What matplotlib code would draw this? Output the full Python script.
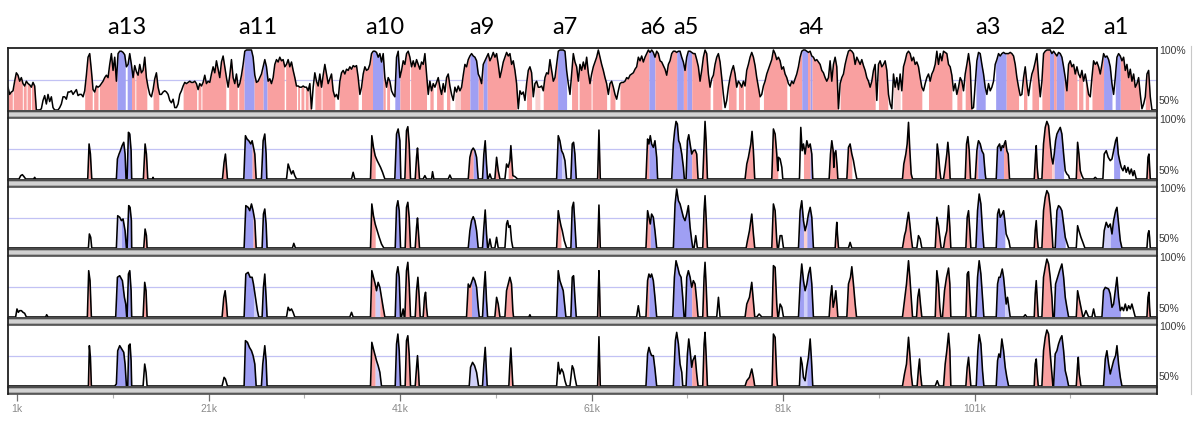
import numpy as np
import matplotlib
matplotlib.use("Agg")
import matplotlib.pyplot as plt
from matplotlib.patches import Rectangle
from matplotlib.lines import Line2D

# ---------------------------------------------------------------- data
# Track 1: identity (%) sampled every T1_STEP kb starting at T1_START kb
T1_START = 0.052
T1_STEP = 0.17416
track1_pct = [
    69, 63, 65, 66, 74, 81, 79, 74, 77, 72, 70, 74, 72, 71, 69, 73, 70, 50, 50, 50,
    51, 58, 62, 55, 63, 57, 61, 52, 50, 50, 50, 52, 55, 61, 61, 59, 65, 65, 66, 63,
    65, 67, 62, 63, 63, 61, 66, 79, 94, 97, 83, 67, 65, 70, 69, 70, 72, 74, 77, 79,
    77, 88, 97, 83, 94, 74, 97, 99, 99, 98, 96, 86, 88, 97, 88, 77, 87, 82, 79, 88,
    81, 83, 94, 77, 69, 63, 61, 67, 76, 81, 69, 63, 63, 65, 66, 65,
    63, 58, 56, 59, 52, 52, 55, 63, 66, 70, 73, 72, 73, 74, 73, 73, 74, 72, 67, 72,
    70, 73, 79, 72, 74, 73, 80, 86, 81, 91, 84, 77, 90, 95, 86, 77, 69, 79, 92, 77,
    72, 80, 69, 72, 79, 88, 99, 100, 100, 100, 100, 94, 79, 73, 74, 77, 80, 86, 92, 86,
    74, 76, 72, 77, 88, 92, 90, 94, 91, 92, 86, 88, 92, 86, 90, 83, 77, 70, 70, 69,
    69, 70, 69, 69, 66, 72, 51, 69, 81, 74, 70, 80, 69, 79, 88, 80, 72, 76, 80,
    66, 61, 63, 59, 74, 81, 83, 80, 84, 83, 86, 84, 87, 86, 87, 77, 63, 69, 80, 86,
    83, 84, 88, 97, 99, 99, 98, 94, 97, 90, 97, 77, 69, 77, 74, 66, 63, 61, 94, 99,
    77, 83, 91, 88, 97, 99, 94, 86, 91, 86, 92, 88, 84, 90, 88, 97, 80, 63, 74, 66,
    72, 69, 73, 77, 69, 63, 72, 65, 77, 80, 70, 63, 58, 69, 65, 70, 66, 69, 79, 88,
    86, 92, 95, 97, 95, 94, 91, 80, 77, 72, 88, 91, 94, 97, 91, 94, 98, 94, 97,
    88, 77, 83, 90, 94, 98, 95, 97, 88, 91, 83, 72, 51, 66, 63, 65, 58, 72, 83, 86,
    81, 61, 72, 74, 69, 69, 70, 66, 77, 81, 80, 92, 83, 74, 77, 88, 99, 100, 100, 100,
    99, 83, 72, 63, 80, 97, 90, 86, 74, 88, 83, 90, 84, 94, 81, 72, 80, 86, 90, 94,
    100, 94, 88, 83, 77, 72, 63, 72, 74, 69, 63, 59, 66, 72, 73, 73, 74, 77, 76, 79,
    80, 81, 84, 86, 94, 91, 95, 90, 94, 97, 100, 98, 100, 98, 94, 99, 97, 91, 90,
    87, 84, 79, 88, 91, 97, 99, 99, 98, 99, 99, 94, 90, 83, 94, 99, 99, 98, 97, 97,
    92, 86, 74, 83, 94, 100, 97, 80, 69, 76, 79, 88, 94, 97, 90, 77, 63, 52, 58, 69,
    77, 83, 87, 80, 69, 74, 72, 69, 74, 70, 83, 88, 94, 98, 94, 87, 77, 69, 61, 63,
    70, 74, 80, 84, 88, 92, 100, 97, 92, 94, 91, 84, 86, 80, 77, 72, 70, 74, 72, 76,
    80, 86, 94, 99, 100, 100, 99, 98, 99, 95, 94, 91, 92, 90, 88, 83, 81, 77, 74,
    77, 91, 74, 88, 94, 86, 51, 72, 77, 80, 88, 94, 99, 100, 99, 97, 88, 94, 91, 88,
    92, 87, 83, 77, 74, 69, 74, 83, 88, 58, 88, 91, 86, 88, 91, 83, 63, 55, 51, 80,
    69, 77, 67, 80, 66, 86, 91, 97, 99, 97, 91, 94, 88, 90, 86, 77, 69, 66, 72, 77,
    80, 74, 80, 83, 88, 99, 88, 97, 91, 99, 98, 97, 88, 86, 79, 66, 72, 63, 69, 77,
    74, 66, 80, 88, 97, 86, 51, 52, 72, 91, 98, 97, 88, 80, 69, 63, 72, 66, 69,
    74, 88, 92, 97, 95, 97, 98, 97, 97, 97, 98, 97, 95, 88, 77, 69, 62, 63, 77, 86,
    72, 62, 72, 80, 84, 90, 97, 77, 61, 74, 97, 99, 100, 100, 100, 97, 99, 97, 95, 98,
    97, 94, 86, 77, 66, 88, 91, 86, 88, 80, 86, 80, 77, 83, 74, 80, 72, 63, 61, 77,
    91, 88, 90, 86, 80, 88, 97, 94, 95, 92, 86, 72, 63, 77, 94, 97, 95, 91, 94, 83,
    88, 77, 84, 74, 80, 69, 72, 77, 63, 51, 55, 61, 80, 83, 61, 50, 50, 50,
]
# coloured regions of track 1: (kind, start kb, end kb)
track1_fill = [
    ('c', 0.05, 0.5), ('c', 0.6, 1.55), ('c', 1.65, 1.95), ('c', 2.05, 2.4), ('c', 2.5, 2.95),
    ('c', 8.06, 8.85), ('c', 9.0, 9.45), ('c', 9.6, 11.45), ('e', 11.45, 12.3), ('e', 12.5, 12.95),
    ('c', 12.95, 13.3), ('c', 13.4, 14.55), ('c', 15.2, 15.8),
    ('c', 18.34, 19.75), ('c', 19.9, 20.2), ('c', 20.3, 22.8), ('c', 23.1, 24.0), ('c', 24.15, 24.71),
    ('e', 24.71, 25.76), ('c', 25.76, 26.7), ('e', 26.7, 27.11), ('c', 27.11, 28.9), ('c', 29.05, 30.18),
    ('c', 30.3, 30.5), ('c', 30.65, 30.95), ('c', 31.1, 31.4), ('c', 31.5, 31.72), ('c', 32.1, 32.75),
    ('c', 32.85, 34.18), ('c', 34.64, 36.62), ('c', 36.97, 38.12), ('e', 38.12, 39.23), ('c', 39.23, 39.45),
    ('c', 39.6, 39.9), ('e', 40.45, 40.98), ('c', 40.98, 42.0), ('c', 42.1, 43.76), ('c', 44.11, 44.46),
    ('c', 44.81, 45.5), ('c', 45.85, 46.2), ('l', 46.72, 47.3), ('c', 47.3, 48.29), ('e', 48.29, 49.16),
    ('c', 49.16, 49.68), ('e', 49.68, 50.1), ('c', 50.1, 53.17), ('c', 54.21, 54.73), ('l', 55.08, 55.6),
    ('c', 55.95, 57.45), ('e', 57.45, 58.39), ('c', 58.91, 59.55), ('c', 59.7, 60.95), ('c', 61.05, 62.57),
    ('c', 62.92, 63.44), ('c', 63.96, 66.99), ('e', 66.99, 67.62), ('c', 67.62, 69.89), ('e', 69.89, 70.59),
    ('c', 70.59, 70.94), ('e', 70.94, 71.46), ('c', 71.46, 73.38), ('c', 73.65, 74.6), ('c', 75.29, 76.09),
    ('c', 76.34, 76.86), ('c', 77.03, 78.53), ('c', 78.95, 81.39), ('c', 81.67, 82.95), ('e', 82.95, 83.55),
    ('c', 83.55, 83.83), ('e', 83.83, 84.03), ('c', 84.03, 86.72), ('c', 86.96, 90.62), ('c', 90.96, 91.94),
    ('l', 92.5, 93.23), ('c', 93.4, 95.49), ('c', 96.19, 98.63), ('c', 99.15, 99.67), ('c', 100.02, 100.72),
    ('e', 101.14, 102.11), ('e', 103.2, 104.3), ('c', 104.3, 105.59), ('c', 106.11, 106.46),
    ('c', 106.99, 107.68), ('c', 108.03, 108.83), ('e', 108.83, 109.25), ('c', 109.25, 109.53),
    ('e', 109.53, 110.36), ('c', 110.36, 111.69), ('c', 111.86, 112.31), ('c', 112.56, 112.91),
    ('c', 113.26, 114.47), ('e', 114.47, 115.35), ('e', 115.69, 116.22), ('c', 116.22, 118.24),
    ('c', 118.83, 119.28),
]

# Tracks 2-5: peaks as (kind, [(kb, identity %), ...])
track2_peaks = [
    ('n', [(1.2, 50), (1.38, 52.8), (1.55, 53.6), (1.72, 52), (1.9, 50)]),
    ('n', [(2.73, 50), (2.84, 51.4), (2.94, 50)]),
    ('c', [(8.38, 50), (8.52, 79.2), (8.66, 70.8), (8.8, 50)]),
    ('e', [(11.37, 50), (11.48, 66.7), (11.65, 70.8), (11.79, 73.6), (11.97, 77.8), (12.14, 80.6), (12.28, 70.8), (12.38, 50)]),
    ('e', [(12.49, 50), (12.63, 88.9), (12.77, 87.5), (12.91, 73.6), (12.97, 50)]),
    ('c', [(14.19, 50), (14.37, 79.2), (14.51, 70.8), (14.65, 50)]),
    ('n', [(15.13, 50), (15.2, 51.4), (15.27, 50)]),
    ('c', [(22.45, 50), (22.62, 63.9), (22.76, 70.8), (22.87, 59.7), (22.97, 50)]),
    ('e', [(24.68, 50), (24.85, 86.1), (25.02, 83.3), (25.2, 81.9), (25.41, 79.2), (25.55, 81.9)]),
    ('c', [(25.55, 81.9), (25.69, 76.4), (25.83, 70.8), (25.97, 50)]),
    ('e', [(26.52, 50), (26.7, 81.9), (26.87, 87.5), (27.01, 70.8), (27.08, 50)]),
    ('n', [(29.14, 50), (29.31, 62.5), (29.48, 58.3), (29.66, 54.2), (29.83, 56.9), (30.0, 52.8), (30.18, 50)]),
    ('n', [(35.93, 50), (36.1, 55.6), (36.27, 50)]),
    ('c', [(37.91, 50), (38.05, 86.1), (38.22, 76.4), (38.4, 69.4)]),
    ('n', [(38.4, 69.4), (38.61, 65.3), (38.78, 62.5), (38.96, 59.7), (39.17, 55.6), (39.41, 50)]),
    ('e', [(40.45, 50), (40.63, 87.5), (40.8, 91.7), (40.98, 81.9), (41.08, 50)]),
    ('c', [(41.5, 50), (41.67, 90.3), (41.81, 93.6), (41.95, 79.2), (42.09, 50)]),
    ('c', [(42.58, 50), (42.72, 68.1), (42.82, 75.8), (42.93, 62.5), (43.03, 50)]),
    ('n', [(43.41, 50), (43.59, 52.8), (43.76, 50)]),
    ('n', [(44.29, 50), (44.39, 56.1), (44.53, 50)]),
    ('n', [(46.03, 50), (46.2, 53.3), (46.38, 50)]),
    ('c', [(48.12, 50), (48.29, 68.1), (48.46, 73.6), (48.64, 75.8)]),
    ('e', [(48.64, 75.8), (48.81, 73.6), (48.99, 68.1), (49.16, 50)]),
    ('e', [(49.61, 50), (49.75, 70.8), (49.89, 81.9), (50.03, 62.5), (50.14, 50)]),
    ('n', [(50.21, 50), (50.38, 54.2), (50.55, 50)]),
    ('c', [(50.9, 50), (51.08, 68.1), (51.25, 56.9), (51.43, 50)]),
    ('n', [(51.95, 50), (52.12, 62.5), (52.29, 59.7)]),
    ('c', [(52.29, 59.7), (52.47, 65.3), (52.57, 77.8), (52.68, 65.3), (52.78, 52.8)]),
    ('n', [(52.78, 52.8), (52.99, 52), (53.27, 50)]),
    ('e', [(57.35, 50), (57.52, 86.1), (57.69, 81.9), (57.87, 73.6)]),
    ('u', [(57.87, 73.6), (58.04, 70.8), (58.22, 65.3), (58.39, 50)]),
    ('e', [(58.84, 50), (58.98, 79.2), (59.12, 80.6), (59.26, 70.8), (59.4, 50)]),
    ('c', [(61.63, 50), (61.7, 70.8), (61.77, 90.8), (61.84, 70.8), (61.91, 50)]),
    ('c', [(66.68, 50), (66.85, 83.3), (66.99, 79.2)]),
    ('e', [(66.99, 79.2), (67.13, 86.1), (67.27, 79.2), (67.45, 76.4), (67.62, 81.9), (67.8, 68.1), (67.9, 50)]),
    ('e', [(69.37, 50), (69.54, 79.2), (69.68, 90.3), (69.82, 98), (69.96, 95.8), (70.1, 81.9), (70.24, 79.2), (70.42, 70.8), (70.59, 59.7), (70.69, 50)]),
    ('e', [(70.87, 50), (71.01, 81.9), (71.15, 86.9), (71.29, 79.2), (71.46, 70.8)]),
    ('c', [(71.46, 70.8), (71.63, 73.6), (71.81, 74.2), (71.98, 70.8), (72.12, 50)]),
    ('c', [(72.61, 50), (72.75, 79.2), (72.85, 98), (72.96, 81.9), (73.1, 50)]),
    ('c', [(77.03, 50), (77.21, 62.5), (77.38, 68.1), (77.63, 79.2), (77.76, 89.7), (77.9, 73.6), (78.04, 50)]),
    ('c', [(79.82, 50), (79.99, 91.7), (80.17, 87.5), (80.34, 70.8), (80.45, 56.9)]),
    ('n', [(80.45, 56.9), (80.52, 68.1), (80.69, 66.7), (80.87, 59.7), (80.97, 50)]),
    ('n', [(82.71, 50), (82.85, 93), (82.99, 73.6), (83.13, 79.2)]),
    ('c', [(83.13, 79.2), (83.3, 70.8), (83.48, 81.9), (83.65, 76.4), (83.83, 79.2)]),
    ('e', [(83.83, 79.2), (84.0, 70.8), (84.1, 50)]),
    ('c', [(85.81, 50), (85.95, 70.8), (86.09, 81.9), (86.23, 73.6), (86.3, 59.7), (86.37, 70.8), (86.51, 73.6), (86.65, 59.7), (86.72, 50)]),
    ('c', [(87.66, 50), (87.83, 76.4), (88.0, 79.2), (88.18, 70.8)]),
    ('n', [(88.18, 70.8), (88.35, 65.3), (88.53, 56.9), (88.7, 50)]),
    ('c', [(93.47, 50), (93.61, 62.5), (93.82, 70.8), (93.96, 79.2), (94.1, 97.2), (94.24, 73.6), (94.38, 54.2), (94.52, 50)]),
    ('c', [(96.96, 50), (97.1, 79.2), (97.23, 70.8), (97.37, 56.9), (97.48, 50)]),
    ('c', [(97.76, 50), (97.93, 59.7), (98.1, 70.8), (98.21, 80.6), (98.35, 68.1), (98.45, 50)]),
    ('c', [(100.02, 50), (100.16, 79.2), (100.3, 85.3), (100.44, 73.6), (100.58, 50)]),
    ('c', [(101.07, 50), (101.24, 73.6), (101.34, 79.2)]),
    ('e', [(101.34, 79.2), (101.41, 81.9), (101.59, 79.2), (101.76, 73.6), (101.94, 70.8), (102.11, 54.2), (102.18, 50)]),
    ('e', [(103.26, 50), (103.4, 76.4), (103.61, 79.2), (103.75, 73.6), (103.89, 77.8), (104.03, 76.4)]),
    ('c', [(104.03, 76.4), (104.1, 79.2), (104.23, 81.9), (104.37, 73.6), (104.51, 70.8), (104.65, 50)]),
    ('c', [(107.23, 50), (107.37, 70.8), (107.44, 77.8), (107.54, 59.7), (107.65, 50)]),
    ('c', [(108.03, 50), (108.2, 79.2), (108.38, 93), (108.55, 98), (108.73, 94.4), (108.9, 79.2), (109.04, 68.1)]),
    ('l', [(109.04, 68.1), (109.18, 62.5), (109.32, 70.8)]),
    ('e', [(109.32, 70.8), (109.46, 81.9), (109.6, 87.5), (109.77, 90.3), (109.95, 93), (110.12, 87.5), (110.3, 70.8)]),
    ('n', [(110.3, 70.8), (110.47, 56.9), (110.64, 54.2), (110.82, 52.8), (110.92, 50)]),
    ('c', [(111.62, 50), (111.76, 80.6), (111.9, 70.8), (112.04, 56.9)]),
    ('n', [(112.04, 56.9), (112.21, 52.8), (112.38, 50)]),
    ('n', [(113.43, 50), (113.6, 51.4), (113.78, 50)]),
    ('n', [(114.4, 50), (114.54, 70.8), (114.75, 73.6), (114.96, 68.1), (115.17, 65.3), (115.35, 66.7), (115.52, 73.6)]),
    ('e', [(115.52, 73.6), (115.73, 81.9), (115.87, 84.7), (116.01, 70.8), (116.15, 65.3)]),
    ('n', [(116.15, 65.3), (116.32, 59.7), (116.5, 56.9), (116.67, 61.1), (116.84, 55.6), (117.02, 59.7), (117.19, 54.2), (117.37, 58.3), (117.54, 52.8), (117.68, 56.9), (117.89, 50)]),
    ('c', [(119.0, 50), (119.11, 68.1), (119.21, 70.8), (119.28, 59.7), (119.35, 50)]),
]

track3_peaks = [
    ('n', [(8.45, 50), (8.55, 61.7), (8.69, 58.9), (8.8, 50)]),
    ('u', [(11.37, 50), (11.51, 76.9), (11.72, 75.6), (11.9, 72.8)]),
    ('e', [(11.9, 72.8), (12.07, 74.2), (12.28, 64.4), (12.42, 50)]),
    ('e', [(12.49, 50), (12.66, 85.3), (12.8, 83.9), (12.94, 72.8), (12.97, 50)]),
    ('c', [(14.23, 50), (14.37, 65.8), (14.51, 60.3), (14.58, 50)]),
    ('e', [(24.71, 50), (24.89, 85.3), (25.13, 83.9), (25.3, 81.1), (25.48, 86.7), (25.65, 81.1)]),
    ('c', [(25.65, 81.1), (25.83, 72.8), (25.97, 50)]),
    ('e', [(26.59, 50), (26.73, 78.3), (26.87, 82.5), (27.01, 70), (27.11, 50)]),
    ('n', [(29.76, 50), (29.9, 53.9), (30.07, 50)]),
    ('c', [(37.91, 50), (38.05, 86.7), (38.22, 76.9), (38.4, 70)]),
    ('n', [(38.4, 70), (38.61, 64.4), (38.82, 58.9), (39.06, 53.3), (39.3, 50)]),
    ('e', [(40.49, 50), (40.63, 83.9), (40.77, 89.4), (40.91, 81.1), (41.05, 50)]),
    ('c', [(41.53, 50), (41.67, 83.9), (41.81, 88.1), (41.95, 75.6), (42.09, 50)]),
    ('c', [(42.58, 50), (42.72, 67.2), (42.82, 75), (42.93, 61.7), (43.03, 50)]),
    ('e', [(48.12, 50), (48.29, 64.4), (48.46, 72.8), (48.64, 76.1), (48.81, 72.8), (48.99, 64.4), (49.16, 50)]),
    ('e', [(49.61, 50), (49.75, 67.2), (49.89, 81.7), (50.03, 61.7), (50.14, 50)]),
    ('n', [(50.21, 50), (50.38, 57.5), (50.55, 50)]),
    ('n', [(50.9, 50), (51.08, 58.9), (51.25, 50)]),
    ('n', [(51.95, 50), (52.12, 70), (52.23, 72.8), (52.36, 67.2), (52.5, 68.6), (52.64, 56.1), (52.78, 50)]),
    ('c', [(57.35, 50), (57.52, 81.1), (57.66, 74.2), (57.8, 68.6)]),
    ('n', [(57.8, 68.6), (57.94, 64.4), (58.15, 56.1), (58.39, 50)]),
    ('e', [(58.84, 50), (58.98, 83.9), (59.12, 88.1), (59.26, 70), (59.4, 50)]),
    ('c', [(61.63, 50), (61.7, 67.2), (61.77, 85.8), (61.84, 67.2), (61.91, 50)]),
    ('c', [(66.68, 50), (66.85, 81.1), (66.99, 75.6), (67.13, 70)]),
    ('e', [(67.13, 70), (67.27, 78.3), (67.45, 75.6), (67.62, 64.4), (67.8, 50)]),
    ('e', [(69.54, 50), (69.72, 86.7), (69.89, 99.2), (70.07, 89.4), (70.24, 86.7), (70.42, 81.1), (70.59, 75.6), (70.76, 72.8), (70.94, 78.3), (71.11, 85.3), (71.29, 67.2), (71.46, 56.1), (71.57, 50)]),
    ('n', [(71.7, 50), (71.88, 60.3), (72.05, 50)]),
    ('c', [(72.61, 50), (72.75, 81.1), (72.85, 93.6), (72.96, 75.6), (73.1, 50)]),
    ('c', [(77.14, 50), (77.28, 56.1), (77.49, 64.4), (77.73, 78.3), (77.9, 61.7), (78.04, 50)]),
    ('c', [(79.82, 50), (79.99, 86.7), (80.17, 81.1), (80.34, 56.1), (80.41, 50)]),
    ('n', [(80.52, 50), (80.69, 60.3), (80.87, 60.3), (81.04, 50)]),
    ('e', [(82.61, 50), (82.78, 81.1), (82.95, 89.4), (83.13, 72.8)]),
    ('l', [(83.13, 72.8), (83.3, 64.4), (83.48, 70)]),
    ('e', [(83.48, 70), (83.65, 78.3), (83.83, 83.9), (84.0, 75.6), (84.17, 50)]),
    ('c', [(86.44, 50), (86.54, 64.4), (86.61, 71.4), (86.68, 61.7), (86.79, 50)]),
    ('n', [(87.83, 50), (88.0, 54.7), (88.18, 50)]),
    ('c', [(93.47, 50), (93.68, 60.3), (93.82, 64.4), (93.96, 72.8), (94.1, 79.7), (94.24, 70), (94.38, 58.9), (94.52, 50)]),
    ('n', [(94.97, 50), (95.14, 60.3), (95.32, 57.5), (95.49, 50)]),
    ('c', [(96.89, 50), (97.06, 75.6), (97.23, 68.6), (97.41, 56.1), (97.51, 50)]),
    ('c', [(97.76, 50), (97.93, 58.9), (98.1, 64.4), (98.28, 85.3), (98.42, 67.2), (98.52, 50)]),
    ('c', [(100.09, 50), (100.23, 75.6), (100.37, 81.1), (100.51, 64.4), (100.61, 50)]),
    ('e', [(101.14, 50), (101.31, 81.1), (101.48, 95), (101.66, 86.7), (101.83, 64.4), (101.97, 50)]),
    ('e', [(103.26, 50), (103.4, 78.3), (103.54, 82.5), (103.68, 75.6), (103.89, 78.3), (104.03, 81.1), (104.16, 72.8)]),
    ('n', [(104.16, 72.8), (104.3, 61.7), (104.44, 58.9), (104.58, 56.1), (104.72, 50)]),
    ('c', [(107.23, 50), (107.33, 64.4), (107.44, 72.8), (107.54, 58.9), (107.65, 50)]),
    ('c', [(108.03, 50), (108.2, 81.1), (108.38, 92.2), (108.55, 97.8), (108.73, 95), (108.9, 83.9), (109.08, 64.4), (109.18, 50)]),
    ('e', [(109.42, 50), (109.6, 81.1), (109.77, 85.3), (109.95, 83.9), (110.12, 81.1), (110.3, 70), (110.47, 58.9)]),
    ('n', [(110.47, 58.9), (110.64, 54.7), (110.82, 50)]),
    ('n', [(111.62, 50), (111.76, 68.6), (111.9, 64.4), (112.11, 58.9), (112.31, 54.7), (112.52, 50)]),
    ('u', [(114.4, 50), (114.54, 64.4), (114.75, 71.4), (114.96, 67.2), (115.17, 70)]),
    ('e', [(115.17, 70), (115.35, 61.7), (115.52, 72.8), (115.73, 81.1), (115.87, 83.9), (116.04, 70), (116.22, 56.1), (116.39, 50)]),
    ('n', [(119.0, 50), (119.11, 61.7), (119.21, 64.4), (119.28, 58.9), (119.35, 50)]),
]

track4_peaks = [
    ('n', [(0.85, 50), (0.99, 56.7), (1.13, 53.9), (1.27, 55.3), (1.45, 55.3), (1.62, 53.9), (1.79, 53.1), (1.97, 50)]),
    ('n', [(3.99, 50), (4.09, 51.9), (4.23, 50)]),
    ('c', [(8.34, 50), (8.48, 88.6), (8.62, 80.3), (8.76, 50)]),
    ('e', [(11.3, 50), (11.48, 83.1), (11.72, 84.4), (12.0, 80.3), (12.21, 66.4), (12.35, 60.8), (12.45, 50)]),
    ('e', [(12.49, 50), (12.63, 85.8), (12.77, 88.6), (12.91, 71.9), (12.97, 50)]),
    ('c', [(14.16, 50), (14.33, 78.9), (14.47, 71.9), (14.58, 50)]),
    ('c', [(22.41, 50), (22.59, 66.4), (22.73, 71.9), (22.87, 60.8), (22.97, 50)]),
    ('e', [(24.71, 50), (24.89, 85.8), (25.13, 87.2), (25.34, 83.1), (25.55, 83.1), (25.69, 77.5)]),
    ('u', [(25.69, 77.5), (25.9, 66.4), (26.1, 55.3), (26.24, 50)]),
    ('e', [(26.59, 50), (26.73, 74.7), (26.87, 85.8), (27.01, 66.4), (27.11, 50)]),
    ('n', [(29.14, 50), (29.31, 58.1), (29.48, 55.3), (29.66, 56.7), (29.83, 53.9), (30.0, 50)]),
    ('n', [(35.75, 50), (35.93, 53.9), (36.1, 50)]),
    ('c', [(37.91, 50), (38.05, 88.6), (38.22, 83.1), (38.4, 77.5)]),
    ('u', [(38.4, 77.5), (38.54, 71.9), (38.71, 78.9), (38.89, 74.7)]),
    ('c', [(38.89, 74.7), (39.06, 66.4), (39.23, 58.1), (39.41, 50)]),
    ('e', [(40.49, 50), (40.63, 85.8), (40.77, 91.9), (40.91, 83.1), (41.05, 50)]),
    ('n', [(41.15, 50), (41.32, 56.7), (41.43, 50)]),
    ('c', [(41.5, 50), (41.67, 88.6), (41.81, 95.6), (41.95, 77.5), (42.09, 50)]),
    ('c', [(42.58, 50), (42.72, 71.9), (42.86, 83.1), (43.0, 66.4), (43.1, 50)]),
    ('c', [(43.41, 50), (43.55, 66.4), (43.66, 70.6), (43.76, 58.1), (43.87, 50)]),
    ('c', [(47.94, 50), (48.12, 77.5), (48.29, 74.7), (48.46, 78.9)]),
    ('e', [(48.46, 78.9), (48.64, 83.1), (48.81, 80.3), (48.99, 74.7), (49.16, 58.1), (49.27, 50)]),
    ('e', [(49.61, 50), (49.75, 71.9), (49.89, 87.8), (50.03, 63.6), (50.14, 50)]),
    ('c', [(50.9, 50), (51.08, 66.4), (51.25, 60.8), (51.43, 50)]),
    ('c', [(51.95, 50), (52.12, 71.9), (52.29, 77.5), (52.47, 83.1), (52.64, 77.5), (52.78, 55.3), (52.85, 50)]),
    ('n', [(54.45, 50), (54.56, 51.9), (54.66, 50)]),
    ('e', [(57.35, 50), (57.52, 88.6), (57.69, 80.3), (57.87, 76.1), (58.04, 71.9), (58.22, 58.1), (58.32, 50)]),
    ('e', [(58.84, 50), (58.98, 83.1), (59.12, 84.4), (59.26, 66.4), (59.4, 50)]),
    ('c', [(61.63, 50), (61.7, 71.9), (61.77, 88.6), (61.84, 71.9), (61.91, 50)]),
    ('n', [(65.7, 50), (65.88, 59.4), (66.05, 50)]),
    ('c', [(66.68, 50), (66.85, 80.3), (66.99, 85.8)]),
    ('e', [(66.99, 85.8), (67.13, 83.1), (67.27, 85.8), (67.45, 80.3), (67.62, 66.4), (67.8, 50)]),
    ('e', [(69.48, 50), (69.65, 83.1), (69.82, 96.9), (70.0, 91.4), (70.17, 85.8), (70.35, 83.1), (70.52, 66.4), (70.66, 50)]),
    ('e', [(70.8, 50), (70.94, 83.1), (71.11, 88.6), (71.29, 83.1), (71.46, 74.7)]),
    ('c', [(71.46, 74.7), (71.63, 80.3), (71.81, 77.5), (71.98, 63.6), (72.12, 50)]),
    ('c', [(72.61, 50), (72.75, 83.1), (72.85, 95.6), (72.96, 77.5), (73.1, 50)]),
    ('n', [(74.07, 50), (74.25, 66.4), (74.42, 50)]),
    ('c', [(77.03, 50), (77.21, 60.8), (77.49, 66.4), (77.73, 78.9), (77.9, 63.6), (78.04, 50)]),
    ('n', [(78.25, 50), (78.5, 52.5), (78.78, 50)]),
    ('c', [(79.85, 50), (79.99, 92.8), (80.17, 91.4), (80.34, 60.8), (80.45, 50)]),
    ('n', [(80.52, 50), (80.69, 60.8), (80.87, 58.1), (81.04, 50)]),
    ('e', [(82.61, 50), (82.78, 77.5), (82.95, 94.2), (83.13, 80.3)]),
    ('u', [(83.13, 80.3), (83.3, 71.9), (83.48, 77.5)]),
    ('e', [(83.48, 77.5), (83.65, 85.8), (83.83, 91.4), (84.0, 77.5), (84.17, 50)]),
    ('c', [(85.81, 50), (85.95, 66.4), (86.09, 76.1), (86.23, 58.1), (86.37, 63.6), (86.51, 71.9), (86.65, 58.1), (86.72, 50)]),
    ('c', [(87.66, 50), (87.83, 77.5), (88.04, 83.1), (88.18, 91.9), (88.35, 77.5), (88.53, 60.8), (88.67, 50)]),
    ('c', [(93.47, 50), (93.68, 63.6), (93.89, 77.5), (94.1, 96.9), (94.24, 83.1), (94.38, 66.4), (94.52, 50)]),
    ('c', [(94.94, 50), (95.07, 66.4), (95.21, 73.3), (95.35, 60.8), (95.49, 50)]),
    ('c', [(96.89, 50), (97.06, 88.6), (97.23, 77.5), (97.37, 58.1), (97.48, 50)]),
    ('c', [(97.65, 50), (97.86, 71.9), (98.07, 83.1), (98.28, 90.8), (98.42, 77.5), (98.52, 50)]),
    ('c', [(100.09, 50), (100.23, 85.8), (100.37, 87.8), (100.51, 66.4), (100.61, 50)]),
    ('e', [(101.14, 50), (101.31, 83.1), (101.48, 96.9), (101.66, 85.8), (101.83, 66.4), (101.97, 50)]),
    ('e', [(103.26, 50), (103.4, 77.5), (103.54, 83.1), (103.68, 83.1), (103.89, 90), (104.03, 83.1), (104.16, 71.9)]),
    ('u', [(104.16, 71.9), (104.3, 60.8), (104.44, 66.4), (104.58, 58.1), (104.72, 50)]),
    ('n', [(106.11, 50), (106.29, 51.9), (106.46, 50)]),
    ('c', [(107.23, 50), (107.33, 69.2), (107.44, 80.3), (107.54, 66.4), (107.65, 50)]),
    ('c', [(108.03, 50), (108.2, 83.1), (108.38, 91.4), (108.55, 98.3), (108.73, 94.2), (108.9, 83.1), (109.08, 66.4), (109.18, 50)]),
    ('e', [(109.32, 50), (109.46, 77.5), (109.67, 83.1), (109.88, 88.6), (110.12, 94.2), (110.3, 83.1), (110.47, 66.4), (110.64, 58.1), (110.82, 50)]),
    ('c', [(111.62, 50), (111.76, 71.9), (111.9, 66.4), (112.11, 58.1), (112.31, 50)]),
    ('n', [(112.38, 50), (112.63, 55.3), (112.91, 50)]),
    ('n', [(113.26, 50), (113.43, 56.7), (113.6, 50)]),
    ('e', [(114.3, 50), (114.47, 71.9), (114.65, 74.7), (115.0, 73.3), (115.17, 69.2), (115.35, 58.1), (115.52, 60.8), (115.69, 71.9), (115.87, 83.1), (116.04, 66.4), (116.22, 55.3)]),
    ('n', [(116.22, 55.3), (116.39, 58.1), (116.56, 55.3), (116.74, 60.8), (116.91, 55.3), (117.09, 59.4), (117.26, 56.7), (117.43, 60.8), (117.61, 55.3), (117.78, 50)]),
    ('c', [(119.0, 50), (119.11, 66.4), (119.21, 70.6), (119.28, 58.1), (119.35, 50)]),
]

track5_peaks = [
    ('c', [(8.45, 50), (8.55, 83.6), (8.66, 73.9), (8.76, 50)]),
    ('e', [(11.2, 50), (11.37, 51.7), (11.51, 79.4), (11.72, 83.6), (11.93, 80.8), (12.14, 78.1), (12.28, 68.3), (12.42, 50)]),
    ('e', [(12.56, 50), (12.66, 83.6), (12.8, 85), (12.91, 71.1), (12.97, 50)]),
    ('n', [(14.16, 50), (14.33, 68.3), (14.47, 61.4), (14.58, 50)]),
    ('n', [(22.41, 50), (22.62, 57.2), (22.76, 55.8), (22.97, 50)]),
    ('e', [(24.71, 50), (24.85, 87.8), (25.06, 86.4), (25.27, 82.2), (25.48, 79.4), (25.65, 75.3), (25.83, 68.3), (25.97, 50)]),
    ('e', [(26.52, 50), (26.66, 68.3), (26.87, 83.6), (27.01, 71.1), (27.11, 50)]),
    ('c', [(37.91, 50), (38.05, 86.4), (38.22, 80.8), (38.4, 75.3)]),
    ('u', [(38.4, 75.3), (38.54, 71.1), (38.71, 66.9), (38.89, 61.4), (39.06, 50)]),
    ('e', [(40.49, 50), (40.63, 85), (40.77, 93.3), (40.91, 79.4), (41.05, 50)]),
    ('c', [(41.53, 50), (41.67, 87.8), (41.81, 91.9), (41.95, 76.7), (42.09, 50)]),
    ('c', [(42.58, 50), (42.72, 65.6), (42.82, 75.3), (42.93, 61.4), (43.0, 50)]),
    ('u', [(48.22, 50), (48.36, 65.6), (48.57, 69.7), (48.78, 66.9), (48.99, 61.4), (49.2, 50)]),
    ('e', [(49.61, 50), (49.75, 68.3), (49.89, 82.2), (50.03, 60), (50.1, 50)]),
    ('c', [(52.36, 50), (52.47, 68.3), (52.57, 81.7), (52.68, 65.6), (52.78, 50)]),
    ('n', [(57.35, 50), (57.52, 69.7), (57.69, 60), (57.87, 64.2), (58.04, 61.4), (58.22, 54.4), (58.39, 50)]),
    ('n', [(58.74, 50), (58.98, 66.9), (59.12, 64.2), (59.26, 57.2), (59.44, 50)]),
    ('c', [(61.63, 50), (61.7, 71.1), (61.77, 91.1), (61.84, 71.1), (61.91, 50)]),
    ('e', [(66.68, 50), (66.85, 76.7), (66.99, 82.2), (67.13, 78.1), (67.27, 75.3), (67.45, 75.3), (67.62, 64.2), (67.8, 50)]),
    ('e', [(69.54, 50), (69.75, 87.8), (69.89, 94.7), (70.07, 85), (70.24, 68.3)]),
    ('u', [(70.24, 68.3), (70.42, 61.4), (70.52, 50)]),
    ('e', [(70.87, 50), (71.01, 76.7), (71.15, 89.2), (71.29, 79.4), (71.46, 65.6)]),
    ('c', [(71.46, 65.6), (71.57, 71.1), (71.81, 75.3), (71.98, 60), (72.12, 50)]),
    ('c', [(72.61, 50), (72.75, 85), (72.85, 94.7), (72.96, 76.7), (73.1, 50)]),
    ('c', [(77.03, 50), (77.21, 54.4), (77.49, 57.2), (77.73, 64.2), (77.9, 57.2), (78.04, 50)]),
    ('c', [(79.85, 50), (79.99, 93.3), (80.17, 90.6), (80.34, 57.2), (80.41, 50)]),
    ('u', [(82.71, 50), (82.85, 73.9), (82.99, 68.3), (83.13, 57.2), (83.3, 54.4), (83.48, 65.6)]),
    ('e', [(83.48, 65.6), (83.65, 73.9), (83.83, 89.2), (83.97, 71.1), (84.1, 50)]),
    ('c', [(93.47, 50), (93.68, 60), (93.89, 68.3), (94.1, 90.6), (94.24, 76.7), (94.38, 60), (94.52, 50)]),
    ('c', [(95.0, 50), (95.14, 64.2), (95.25, 72.5), (95.35, 60), (95.49, 50)]),
    ('n', [(96.89, 50), (97.1, 54.4), (97.3, 50)]),
    ('c', [(97.76, 50), (97.93, 68.3), (98.1, 79.4), (98.28, 93.9), (98.42, 79.4), (98.52, 50)]),
    ('c', [(100.09, 50), (100.23, 65.6), (100.37, 73.9), (100.51, 60), (100.61, 50)]),
    ('e', [(101.17, 50), (101.34, 79.4), (101.48, 92.8), (101.66, 85), (101.83, 62.8), (101.97, 50)]),
    ('e', [(103.26, 50), (103.4, 71.1), (103.54, 76.7), (103.68, 73.9), (103.85, 89.2), (104.03, 79.4), (104.2, 65.6), (104.37, 57.2), (104.55, 50)]),
    ('c', [(107.23, 50), (107.33, 68.3), (107.44, 72.5), (107.54, 60), (107.65, 50)]),
    ('c', [(108.03, 50), (108.2, 79.4), (108.38, 90.6), (108.55, 96.7), (108.73, 93.3), (108.9, 76.7), (109.08, 60), (109.18, 50)]),
    ('e', [(109.25, 50), (109.42, 76.7), (109.6, 79.4), (109.77, 85), (109.95, 89.2), (110.12, 91.9), (110.3, 79.4), (110.47, 62.8), (110.64, 57.2), (110.82, 50)]),
    ('c', [(111.62, 50), (111.76, 68.3), (111.83, 73.9), (111.93, 60), (112.11, 50)]),
    ('e', [(114.47, 50), (114.65, 72.5), (114.82, 79.4), (115.0, 68.3), (115.17, 60), (115.35, 65.6), (115.52, 71.1), (115.73, 75.3), (115.87, 83.6), (116.04, 68.3), (116.22, 57.2), (116.39, 50)]),
]

gene_labels = ["a13", "a11", "a10", "a9", "a7", "a6", "a5", "a4", "a3", "a2", "a1"]
gene_pos_kb = [12.49, 26.18, 39.45, 49.58, 58.25, 67.45, 70.9, 83.86, 102.45, 109.15, 115.73]
major_ticks_kb = [1, 21, 41, 61, 81, 101]
major_tick_labels = ["1k", "21k", "41k", "61k", "81k", "101k"]
minor_ticks_kb = [11, 31, 51, 71, 91, 111]
KB_RANGE = (0, 120)

# ---------------------------------------------------------------- style / layout
W, H = 1200, 421
PX_L, PX_R = 7.5, 1156.5
BASES = [110, 179, 248, 317, 386]      # pixel row of the 50% baseline of each track
TRACK_H = 62                            # pixels from track top to baseline
BAR_H = 8
FILL = {'c': '#F9A0A0', 'e': '#9F9FF3', 'u': '#CFCFF8', 'l': '#FAD0D0'}
GRID = '#C2C2F4'

fig = plt.figure(figsize=(W / 100, H / 100), dpi=100)

def track_axes(base):
    ax = fig.add_axes([PX_L / W, 1 - base / H, (PX_R - PX_L) / W, TRACK_H / H])
    ax.set_xlim(*KB_RANGE)
    ax.set_ylim(50, 50 + TRACK_H * 50 / 60)
    ax.axis('off')
    ax.axhline(75, color=GRID, lw=0.9, zorder=0)
    return ax

# track 1
ax1 = track_axes(BASES[0])
t1_kb = T1_START + T1_STEP * np.arange(len(track1_pct))
t1_pct = np.array(track1_pct, dtype=float)
for kind, a, b in track1_fill:
    inner = t1_kb[(t1_kb > a) & (t1_kb < b)]
    xs = np.concatenate([[a], inner, [b]])
    ys = np.interp(xs, t1_kb, t1_pct)
    ax1.fill_between(xs, 50, ys, color=FILL[kind], lw=0, zorder=1)
ax1.plot(np.concatenate([[0], t1_kb]), np.concatenate([[t1_pct[0]], t1_pct]),
         color='black', lw=1.1, zorder=2)

for name, pos in zip(gene_labels, gene_pos_kb):
    ax1.text(pos, 1.335, name, transform=ax1.get_xaxis_transform(), ha='center', va='center',
             fontsize=17, family='Lato', color='black')

# tracks 2-5
for base, peaks in zip(BASES[1:], [track2_peaks, track3_peaks, track4_peaks, track5_peaks]):
    ax = track_axes(base)
    xs, ys = [KB_RANGE[0]], [50]
    for kind, pts in peaks:
        px, py = zip(*pts)
        if kind in FILL:
            ax.fill_between(px, 50, py, color=FILL[kind], lw=0, zorder=1)
        xs.extend(px)
        ys.extend(py)
    xs.append(KB_RANGE[1])
    ys.append(50)
    ax.plot(xs, ys, color='black', lw=1.15, zorder=2)

# decorations in pixel space
ov = fig.add_axes([0, 0, 1, 1])
ov.set_xlim(0, W)
ov.set_ylim(H, 0)
ov.axis('off')
ov.set_zorder(5)
for base in BASES:
    ov.add_patch(Rectangle((PX_L, base), PX_R - PX_L, BAR_H, facecolor='#A8A8A8', edgecolor='none'))
    ov.add_patch(Rectangle((PX_L, base + 2.5), PX_R - PX_L, 3, facecolor='#D2D2D2', edgecolor='none'))
    ov.add_line(Line2D([PX_L, PX_R], [base + 0.5, base + 0.5], color='#303030', lw=1.1))
    ov.add_line(Line2D([PX_L, PX_R], [base + BAR_H - 0.5, base + BAR_H - 0.5], color='#404040', lw=1.1))
    ov.text(1159, base - 59, '100%', fontsize=7.5, family='Liberation Sans', color='#3a3a3a',
            ha='left', va='center')
    ov.text(1159, base - 8.5, '50%', fontsize=7.5, family='Liberation Sans', color='#3a3a3a',
            ha='left', va='center')
ov.add_line(Line2D([PX_L, PX_R], [48, 48], color='#202020', lw=1.3))
ov.add_line(Line2D([PX_L, PX_L], [48, BASES[-1] + BAR_H], color='#202020', lw=1.3))
ov.add_line(Line2D([PX_R, PX_R], [48, BASES[-1] + BAR_H], color='#202020', lw=1.3))
ov.add_line(Line2D([1190.5, 1190.5], [46, BASES[-1] + BAR_H], color='#C8C8C8', lw=0.8))

# position axis (kb)
axx = fig.add_axes([PX_L / W, 1 - (BASES[-1] + BAR_H) / H, (PX_R - PX_L) / W, 0.5 / H])
axx.set_xlim(*KB_RANGE)
axx.patch.set_visible(False)
for s in axx.spines.values():
    s.set_visible(False)
axx.set_yticks([])
axx.set_xticks(major_ticks_kb)
axx.set_xticklabels(major_tick_labels, family='Liberation Sans', fontsize=7.5, color='#8a8a8a')
axx.set_xticks(minor_ticks_kb, minor=True)
axx.tick_params(axis='x', which='major', direction='out', length=5, width=0.9, color='#707070', pad=2)
axx.tick_params(axis='x', which='minor', direction='out', length=3, width=0.8, color='#b0b0b0')

fig.savefig('out.png', dpi=100)
